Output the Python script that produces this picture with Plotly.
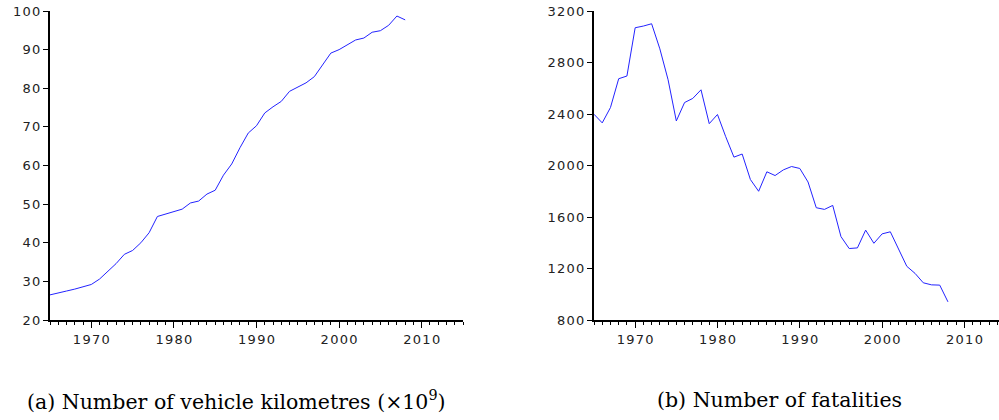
import plotly.graph_objects as go

years = list(range(1965, 2009))
vehicle_km = [26.5, 27.1, 27.5, 28.0, 28.7, 29.2, 30.6, 32.5, 34.6, 37.0,
              38.0, 40.0, 42.6, 46.8, 47.4, 47.9, 48.7, 50.3, 50.8, 52.6,
              53.6, 57.5, 60.4, 64.6, 68.4, 70.3, 73.6, 75.2, 76.6, 79.2,
              80.2, 81.4, 83.0, 86.1, 89.1, 90.0, 91.3, 92.5, 93.0, 94.5,
              94.9, 96.3, 98.7, 97.7]
fatalities = [2398, 2331, 2450, 2674, 2695, 3070, 3083, 3101, 2906, 2666,
              2346, 2489, 2521, 2588, 2325, 2396, 2224, 2065, 2089, 1891,
              1800, 1951, 1922, 1966, 1992, 1977, 1872, 1672, 1659, 1690,
              1448, 1355, 1360, 1498, 1396, 1469, 1485, 1352, 1217, 1162,
              1089, 1073, 1071, 941]

x_ticks = [1970, 1980, 1990, 2000, 2010]
y1_ticks = [20, 30, 40, 50, 60, 70, 80, 90, 100]
y2_ticks = [800, 1200, 1600, 2000, 2400, 2800, 3200]
captions = ["(a) Number of vehicle kilometres (×10<sup>9</sup>)",
            "(b) Number of fatalities"]

HS = "\u200a"


def spaced(v):
    return HS.join(str(v))


W, H = 999, 420


def px_x(p):
    return p / W


def px_y(p):
    return 1 - p / H


fig = go.Figure()
fig.add_trace(go.Scatter(x=years, y=vehicle_km, mode="lines",
                         line=dict(color="#2323ff", width=1),
                         xaxis="x", yaxis="y", showlegend=False))
fig.add_trace(go.Scatter(x=years, y=fatalities, mode="lines",
                         line=dict(color="#2323ff", width=1),
                         xaxis="x2", yaxis="y2", showlegend=False))

tickfont = dict(family="DejaVu Sans", size=13, color="#222222")
xcommon = dict(showgrid=False, zeroline=False, showline=True, linecolor="black",
               linewidth=2, ticks="outside", ticklen=6, tickwidth=1,
               tickcolor="black", tickvals=x_ticks,
               ticktext=[spaced(t) for t in x_ticks], tickfont=tickfont,
               minor=dict(ticks="outside", ticklen=3, dtick=1, tick0=1965,
                          tickcolor="black", tickwidth=1, showgrid=False),
               fixedrange=True, automargin=False)
ycommon = dict(showgrid=False, zeroline=False, showline=True, linecolor="black",
               linewidth=2, ticks="outside", ticklen=5, tickwidth=1,
               tickcolor="black", tickfont=tickfont, fixedrange=True,
               automargin=False, ticklabeloverflow="allow")

ydom = [px_y(320), px_y(11)]
fig.update_layout(
    width=W, height=H,
    margin=dict(l=0, r=0, t=0, b=0, autoexpand=False),
    plot_bgcolor="white", paper_bgcolor="white",
    hovermode=False,
    xaxis=dict(domain=[px_x(50), px_x(463)], range=[1965, 2015], anchor="y", **xcommon),
    yaxis=dict(domain=ydom, range=[20, 100], anchor="x", tickvals=y1_ticks,
               ticktext=[spaced(t) for t in y1_ticks], **ycommon),
    xaxis2=dict(domain=[px_x(594), 1.0], range=[1965, 2014.2], anchor="y2", **xcommon),
    yaxis2=dict(domain=ydom, range=[800, 3200], anchor="x2", tickvals=y2_ticks,
                ticktext=[spaced(t) for t in y2_ticks], **ycommon),
)

capfont = dict(family="DejaVu Serif", size=20.5, color="black")
for cx, txt in zip([236.5, 779.5], captions):
    fig.add_annotation(x=px_x(cx), y=px_y(400), xref="paper", yref="paper",
                       text=txt, showarrow=False, font=capfont,
                       xanchor="center", yanchor="middle")

fig.write_html("out.html",
               config={"displayModeBar": False, "staticPlot": True},
               post_script="document.body.style.margin='0px';"
                           "document.body.style.overflow='hidden';")
